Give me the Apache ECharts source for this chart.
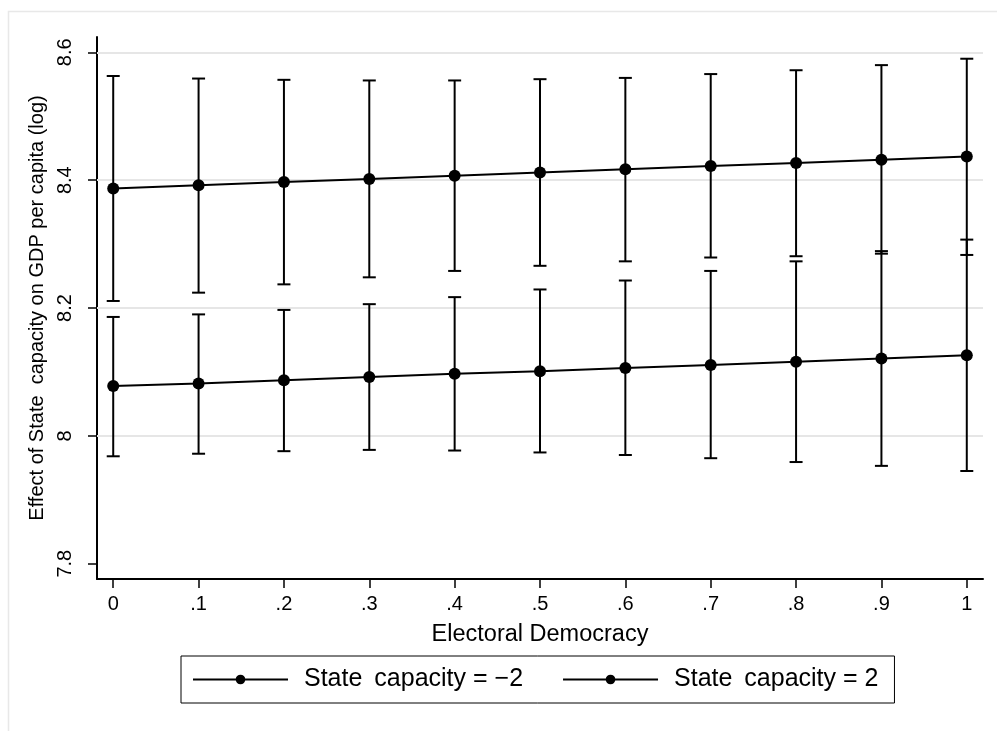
<!DOCTYPE html>
<html>
<head>
<meta charset="utf-8">
<script src="https://cdn.jsdelivr.net/npm/echarts@6/dist/echarts.min.js"></script>
<style>
html,body{margin:0;padding:0;background:#fff;}
#main{width:997px;height:731px;}
</style>
</head>
<body>
<div id="main"></div>
<script>
// x positions (Electoral Democracy)
var xValues = [0, 0.1, 0.2, 0.3, 0.4, 0.5, 0.6, 0.7, 0.8, 0.9, 1];
var xTickLabels = ['0', '.1', '.2', '.3', '.4', '.5', '.6', '.7', '.8', '.9', '1'];
var yTicks = [7.8, 8, 8.2, 8.4, 8.6];
var yTickLabels = ['7.8', '8', '8.2', '8.4', '8.6'];

// State capacity = -2
var lowMid = [8.078, 8.082, 8.087, 8.092, 8.097, 8.101, 8.106, 8.111, 8.116, 8.121, 8.126];
var lowLo  = [7.968, 7.972, 7.976, 7.978, 7.977, 7.974, 7.970, 7.965, 7.959, 7.953, 7.945];
var lowHi  = [8.186, 8.190, 8.197, 8.206, 8.217, 8.229, 8.243, 8.258, 8.273, 8.289, 8.307];

// State capacity = 2
var highMid = [8.387, 8.392, 8.397, 8.402, 8.407, 8.412, 8.417, 8.422, 8.427, 8.432, 8.437];
var highLo  = [8.211, 8.224, 8.237, 8.248, 8.258, 8.266, 8.273, 8.279, 8.281, 8.285, 8.283];
var highHi  = [8.563, 8.559, 8.557, 8.556, 8.556, 8.558, 8.560, 8.566, 8.572, 8.580, 8.590];

var seriesNames = ['State \u2009capacity = \u22122', 'State \u2009capacity = 2'];

var font = 'Liberation Sans, Arial, Helvetica, sans-serif';

function pairs(ys) {
  return xValues.map(function (x, i) { return [x, ys[i]]; });
}
function ciData(lo, hi) {
  return xValues.map(function (x, i) { return [x, lo[i], hi[i]]; });
}

// error bar: vertical line + two caps
function renderErrorBar(params, api) {
  var x = api.value(0);
  var a = api.coord([x, api.value(1)]);
  var b = api.coord([x, api.value(2)]);
  var w = 6.5;
  var st = { stroke: '#000', lineWidth: 2 };
  return {
    type: 'group',
    children: [
      { type: 'line', shape: { x1: a[0], y1: a[1], x2: b[0], y2: b[1] }, style: st },
      { type: 'line', shape: { x1: a[0] - w, y1: a[1], x2: a[0] + w, y2: a[1] }, style: st },
      { type: 'line', shape: { x1: b[0] - w, y1: b[1], x2: b[0] + w, y2: b[1] }, style: st }
    ]
  };
}

var chart = echarts.init(document.getElementById('main'));

var option = {
  animation: false,
  backgroundColor: '#fff',
  textStyle: { fontFamily: font, color: '#000' },
  graphic: [{
    type: 'rect',
    shape: { x: 8.5, y: 11.5, width: 1100, height: 800 },
    style: { fill: 'none', stroke: '#e8e8e8', lineWidth: 1.5 },
    silent: true, z: -1
  }],
  grid: { left: 97, right: 14, top: 37, bottom: 152 },
  legend: {
    data: seriesNames,
    left: 181,
    top: 656,
    orient: 'horizontal',
    selectedMode: false,
    itemWidth: 95,
    itemHeight: 12,
    itemGap: 39,
    padding: [11, 16, 11, 11],
    borderColor: '#000',
    borderWidth: 1,
    textStyle: { fontFamily: font, fontSize: 25, color: '#000', padding: [0, 0, 0, 11] }
  },
  xAxis: {
    type: 'value',
    min: -0.019,
    max: 1.019,
    name: 'Electoral Democracy',
    nameLocation: 'middle',
    nameGap: 44,
    nameTextStyle: { fontFamily: font, fontSize: 23.5, color: '#000' },
    axisLine: { onZero: false, lineStyle: { color: '#000', width: 2 } },
    axisTick: { customValues: xValues, length: 9, lineStyle: { color: '#000', width: 1.5 } },
    axisLabel: {
      customValues: xValues,
      margin: 15,
      fontSize: 20,
      color: '#000',
      fontFamily: font,
      formatter: function (v) {
        var i = xValues.indexOf(v);
        return i >= 0 ? xTickLabels[i] : '';
      }
    },
    splitLine: { show: false }
  },
  yAxis: {
    type: 'value',
    min: 7.776,
    max: 8.624,
    name: 'Effect of State  capacity on GDP per capita (log)',
    nameLocation: 'middle',
    nameGap: 50,
    nameTextStyle: { fontFamily: font, fontSize: 20, color: '#000' },
    axisLine: { show: true, onZero: false, lineStyle: { color: '#000', width: 2 } },
    axisTick: { show: true, customValues: yTicks, length: 9, lineStyle: { color: '#000', width: 1.5 } },
    axisLabel: {
      customValues: yTicks,
      rotate: 90,
      margin: 22,
      fontSize: 20,
      color: '#000',
      fontFamily: font,
      formatter: function (v) {
        for (var i = 0; i < yTicks.length; i++) {
          if (Math.abs(yTicks[i] - v) < 1e-6) return yTickLabels[i];
        }
        return '';
      }
    },
    splitLine: { show: false }
  },
  series: [
    {
      name: seriesNames[0],
      type: 'line',
      data: pairs(lowMid),
      symbol: 'circle',
      symbolSize: 12,
      itemStyle: { color: '#000' },
      lineStyle: { color: '#000', width: 2 },
      z: 4,
      markLine: {
        z: 1,
        silent: true,
        symbol: ['none', 'none'],
        label: { show: false },
        lineStyle: { color: '#e6e6e6', width: 2, type: 'solid' },
        data: [{ yAxis: 8 }, { yAxis: 8.2 }, { yAxis: 8.4 }, { yAxis: 8.6 }]
      }
    },
    {
      name: seriesNames[1],
      type: 'line',
      data: pairs(highMid),
      symbol: 'circle',
      symbolSize: 12,
      itemStyle: { color: '#000' },
      lineStyle: { color: '#000', width: 2 },
      z: 4
    },
    {
      name: 'ci low',
      type: 'custom',
      renderItem: renderErrorBar,
      encode: { x: 0, y: [1, 2] },
      data: ciData(lowLo, lowHi),
      z: 3
    },
    {
      name: 'ci high',
      type: 'custom',
      renderItem: renderErrorBar,
      encode: { x: 0, y: [1, 2] },
      data: ciData(highLo, highHi),
      z: 3
    }
  ]
};

chart.setOption(option);
</script>
</body>
</html>
